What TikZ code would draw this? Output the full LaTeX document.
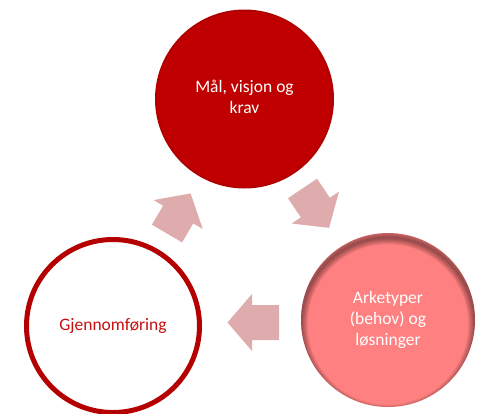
\documentclass[tikz,border=0pt]{standalone}
\usepackage{fontspec}
\setmainfont{Carlito}
\definecolor{topred}{RGB}{192,0,0}
\definecolor{topedge}{RGB}{176,0,0}
\definecolor{ringred}{RGB}{180,0,0}
\definecolor{txtred}{RGB}{200,16,16}
\definecolor{pinkfill}{RGB}{255,128,128}
\definecolor{arrowpink}{RGB}{222,172,172}
\tikzset{
  cyclenode/.style={circle, minimum size=#1, inner sep=0pt, align=center,
    font=\fontsize{17.5}{21}\selectfont},
  cyclearrow/.style={fill=arrowpink, draw=none}
}
\newcommand{\cyclearr}[4]{% base x, base y, angle, shaft length
  \begin{scope}[shift={(#1,#2)}, rotate=#3]
    \fill[cyclearrow] (0,-17.5) -- (#4,-17.5) -- (#4,-28.5) -- ({#4+24.5},0)
      -- (#4,28.5) -- (#4,17.5) -- (0,17.5) -- cycle;
  \end{scope}}
\begin{document}
\begin{tikzpicture}[x=1pt,y=-1pt]
\useasboundingbox (0,0) rectangle (487,413);
% top circle
\node[cyclenode=177pt, fill=topred, draw=topedge, line width=2pt, text=white]
  (goal) at (244.5,99) {};
\node[font=\fontsize{17.5}{21}\selectfont, text=white, align=center, anchor=north]
  (goaltxt) at (244.5,77) {Mål, visjon og\\krav};
% bottom-right circle
\node[cyclenode=174pt, fill=pinkfill, text=white] (arch) at (388,320) {};
\begin{scope}
  \clip (388,320) circle (87);
  \foreach \i in {1,...,8}{
    \draw[black, opacity=0.06, line width={\i*1.7pt}] (388,324.5) circle (87);
  }
\end{scope}
\node[font=\fontsize{17.5}{21}\selectfont, text=white, align=center]
  (archtxt) at (388,320) {Arketyper\\(behov) og\\løsninger};
% bottom-left circle
\node[cyclenode=173pt, fill=white, draw=ringred, line width=5pt, text=txtred]
  (impl) at (113,326) {Gjennomføring};
% arrows
\cyclearr{167}{233.5}{59.5}{22}
\cyclearr{302.5}{188.5}{-56}{23}
\cyclearr{279}{322.5}{180}{27}
\end{tikzpicture}
\end{document}
